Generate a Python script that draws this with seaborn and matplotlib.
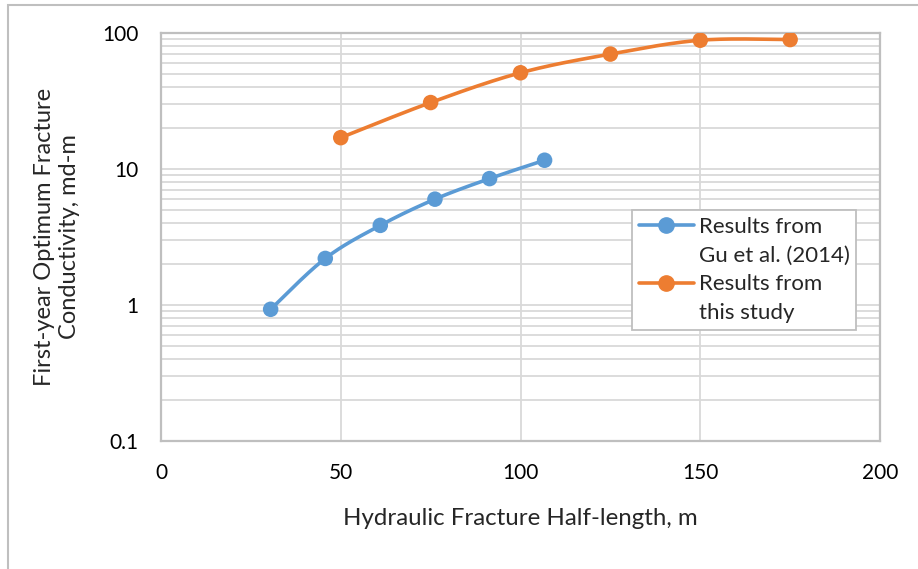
import numpy as np
import pandas as pd
import matplotlib
matplotlib.use("Agg")
import matplotlib.pyplot as plt
import seaborn as sns
from matplotlib.lines import Line2D
from matplotlib.patches import Rectangle
from matplotlib.ticker import LogLocator, NullLocator, FixedLocator

# Optimum first-year fracture conductivity vs. hydraulic fracture half-length
half_length_gu = [30.5, 45.7, 61.0, 76.2, 91.4, 106.7]
conductivity_gu = [0.93, 2.2, 3.85, 6.0, 8.5, 11.6]
half_length_study = [50, 75, 100, 125, 150, 175]
conductivity_study = [17.0, 30.8, 51.0, 70.0, 88.5, 89.5]

series_labels = ["Results from\nGu et al. (2014)", "Results from\nthis study"]
series_colors = ["#5B9BD5", "#ED7D31"]
x_ticks = [0, 50, 100, 150, 200]
y_ticks = [0.1, 1, 10, 100]
y_tick_labels = ["0.1", "1", "10", "100"]

sns.set_theme(style="white")
plt.rcParams["font.family"] = ["Lato", "DejaVu Sans"]

df = pd.concat([
    pd.DataFrame({"x": half_length_gu, "y": conductivity_gu, "series": series_labels[0]}),
    pd.DataFrame({"x": half_length_study, "y": conductivity_study, "series": series_labels[1]}),
], ignore_index=True)
palette = dict(zip(series_labels, series_colors))

fig = plt.figure(figsize=(9.18, 5.69), dpi=100)
ax = fig.add_axes([161 / 918, 1 - 441 / 569, 719 / 918, 408 / 569])
ax.set_yscale("log")
ax.set_xlim(0, 200)
ax.set_ylim(0.1, 100)

# gridlines
ax.xaxis.set_major_locator(FixedLocator(x_ticks))
ax.xaxis.set_minor_locator(NullLocator())
ax.yaxis.set_major_locator(FixedLocator(y_ticks))
ax.yaxis.set_minor_locator(LogLocator(base=10, subs=np.arange(2, 10)))
ax.grid(which="both", color="#D9D9D9", linewidth=1.3)
ax.set_axisbelow(True)


def smooth_curve(ax, xs, ys, n=30):
    """Catmull-Rom curve through the points, built in display space."""
    pts = ax.transData.transform(np.column_stack([xs, ys]))
    ext = np.vstack([pts[0], pts, pts[-1]])
    out = []
    for i in range(1, len(ext) - 2):
        p0, p1, p2, p3 = ext[i - 1], ext[i], ext[i + 1], ext[i + 2]
        t = np.linspace(0, 1, n)[:, None]
        seg = 0.5 * ((2 * p1) + (-p0 + p2) * t + (2 * p0 - 5 * p1 + 4 * p2 - p3) * t ** 2
                     + (-p0 + 3 * p1 - 3 * p2 + p3) * t ** 3)
        out.append(seg)
    curve = np.vstack(out)
    return ax.transData.inverted().transform(curve)


for label in series_labels:
    sub = df[df["series"] == label]
    c = smooth_curve(ax, sub["x"].to_numpy(), sub["y"].to_numpy())
    ax.plot(c[:, 0], c[:, 1], color=palette[label], linewidth=2.6, solid_capstyle="round", zorder=3)

sns.scatterplot(data=df, x="x", y="y", hue="series", palette=palette, s=125,
                edgecolor="none", legend=False, ax=ax, zorder=4)

ax.set_xticks(x_ticks)
ax.set_xticklabels([str(v) for v in x_ticks])
ax.set_yticks(y_ticks)
ax.set_yticklabels(y_tick_labels)
ax.tick_params(axis="both", which="both", length=0, labelsize=15, colors="#000000")
ax.tick_params(axis="x", pad=16)
ax.tick_params(axis="y", pad=16)

for sp in ax.spines.values():
    sp.set_visible(True)
    sp.set_color("#BFBFBF")
    sp.set_linewidth(1.6)

ax.set_xlabel("Hydraulic Fracture Half-length, m", fontsize=17.3, labelpad=18)
ax.set_ylabel("First-year Optimum Fracture\nConductivity, md-m", fontsize=17, labelpad=16,
              linespacing=1.25)

# legend: the marker sits beside the first line of each wrapped label
leg_handles, leg_texts = [], []
for label, col in zip(series_labels, series_colors):
    lines = label.split("\n")
    leg_handles.append(Line2D([], [], color=col, marker="o", markersize=11, linewidth=2.6))
    leg_texts.append(lines[0])
    for extra in lines[1:]:
        leg_handles.append(Line2D([], [], color="none"))
        leg_texts.append(extra)

leg = ax.legend(leg_handles, leg_texts, loc="upper left",
                bbox_to_anchor=((632 - 161) / 719, (441 - 210) / 408),
                borderaxespad=0, fontsize=16, frameon=True, fancybox=False,
                framealpha=1, edgecolor="#BFBFBF", handlelength=2.5,
                handletextpad=0.2, labelspacing=0.4, borderpad=0.3)
leg.get_frame().set_linewidth(1.3)

# outer chart-area border
fig.add_artist(Rectangle((8 / 918, -0.2), 1.5, 1.2 - 5 / 569, transform=fig.transFigure,
                         fill=False, edgecolor="#BFBFBF", linewidth=1.5))

fig.savefig("out.png", dpi=100, facecolor="white")
